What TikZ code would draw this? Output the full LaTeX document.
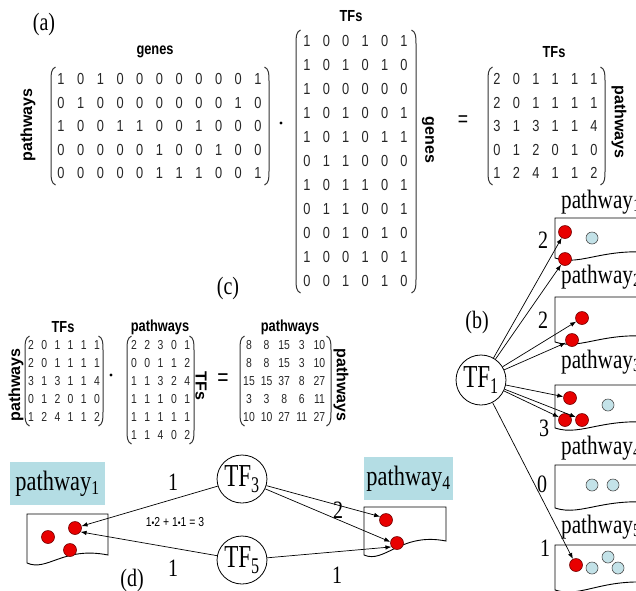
\documentclass[tikz,border=0pt]{standalone}
\usepackage{fontspec}
\setmainfont{Liberation Serif}
\setsansfont{Liberation Sans}
\usetikzlibrary{arrows.meta,shapes.geometric}
\definecolor{lblbg}{HTML}{B4DDE4}
\definecolor{lblue}{HTML}{C3E2E8}
\definecolor{dred}{HTML}{E80000}
\newcommand\sq[1]{\scalebox{0.8}[1]{#1}}
\newcommand\myLP[3]{\draw[parline] ({#1+4.5},#2) .. controls (#1,{#2+2}) and (#1,{#2+7}) .. (#1,{#2+14}) -- (#1,{#3-14}) .. controls (#1,{#3-7}) and (#1,{#3-2}) .. ({#1+4.5},#3);}
\newcommand\myRP[3]{\draw[parline] ({#1-4.5},#2) .. controls (#1,{#2+2}) and (#1,{#2+7}) .. (#1,{#2+14}) -- (#1,{#3-14}) .. controls (#1,{#3-7}) and (#1,{#3-2}) .. ({#1-4.5},#3);}
\newcommand\myWbox[5]{\draw[boxline] (#1,#2) -- (#1,#4) .. controls ({#1+0.25*(#3-#1)},{#4+9}) and ({#1+0.45*(#3-#1)},{#5-9}) .. (#3,#5) -- (#3,#2) -- cycle;}
\begin{document}
\begin{tikzpicture}[x=1pt,y=-1pt,
  digA/.style={font=\sffamily\fontsize{16}{16}\selectfont, inner sep=0, text=black!85},
  digC/.style={font=\sffamily\fontsize{13}{13}\selectfont, inner sep=0, text=black!85},
  lab/.style={font=\sffamily\bfseries\fontsize{16}{16}\selectfont, inner sep=0},
  ser/.style={font=\fontsize{25}{25}\selectfont, inner sep=0},
  pwl/.style={font=\fontsize{26.5}{26.5}\selectfont, inner sep=0, anchor=base west},
  parline/.style={line width=1pt, black!80},
  boxline/.style={line width=0.9pt, black},
  tfnode/.style={draw, ellipse, line width=0.8pt, minimum width=40, minimum height=50, inner sep=0, font=\fontsize{32}{32}\selectfont},
  rdot/.style={circle, draw=red!45!black, line width=0.6pt, fill=dred, minimum size=13, inner sep=0},
  bdot/.style={circle, draw=black!70, line width=0.6pt, fill=lblue, minimum size=12, inner sep=0},
  arr/.style={-{Latex[length=6pt,width=4.5pt]}, line width=0.7pt},
  pbox/.style={fill=lblbg, inner sep=0, font=\fontsize{28}{28}\selectfont},
  mdot/.style={circle, fill=black, minimum size=3.2, inner sep=0}]
\useasboundingbox (0,0) rectangle (636,590);
\clip (0,0) rectangle (636,590);

% ---------------- (a) ----------------
\node[ser] (la) at (44,24) {\sq{(a)}};
\node[lab] (ga) at (155,52) {\sq{genes}};
\node[lab, rotate=90] (pa) at (28,125) {pathways};
\foreach \row [count=\i] in {{1,0,1,0,0,0,0,0,0,0,1},{0,1,0,0,0,0,0,0,0,1,0},{1,0,0,1,1,0,0,1,0,0,0},{0,0,0,0,0,1,0,0,1,0,0},{0,0,0,0,0,1,1,1,0,0,1}}
  {\foreach \v [count=\j] in \row {\node[digA] (ma-\i-\j) at ({61+19.7*(\j-1)},{79+23.5*(\i-1)}) {\sq{\v}};}}
\myLP{51}{67}{185}
\myRP{269}{67}{185}
\node[mdot] (dota) at (281,123) {};

\node[lab] (ta) at (351,16) {\sq{TFs}};
\node[lab, rotate=-90] (gb) at (428,140) {genes};
\foreach \row [count=\i] in {{1,0,0,1,0,1},{1,0,1,0,1,0},{1,0,0,0,0,0},{1,0,1,0,0,1},{1,0,1,0,1,1},{0,1,1,0,0,0},{1,0,1,1,0,1},{0,1,1,0,0,1},{0,0,1,0,1,0},{1,0,0,1,0,1},{0,0,1,0,1,0}}
  {\foreach \v [count=\j] in \row {\node[digA] (mb-\i-\j) at ({307+19.4*(\j-1)},{41+24*(\i-1)}) {\sq{\v}};}}
\myLP{296}{30}{293}
\myRP{416}{30}{293}
\node[font=\sffamily\fontsize{22}{22}\selectfont, inner sep=0] (eqa) at (463,121) {\sq{=}};

\node[lab] (tb) at (554,52) {\sq{TFs}};
\node[lab, rotate=-90] (pb) at (619,122) {pathways};
\foreach \row [count=\i] in {{2,0,1,1,1,1},{2,0,1,1,1,1},{3,1,3,1,1,4},{0,1,2,0,1,0},{1,2,4,1,1,2}}
  {\foreach \v [count=\j] in \row {\node[digA] (mc-\i-\j) at ({497+19.4*(\j-1)},{79+23.5*(\i-1)}) {\sq{\v}};}}
\myLP{488}{67}{185}
\myRP{605}{67}{185}

% ---------------- (c) ----------------
\node[ser] (lc) at (228,288) {\sq{(c)}};
\node[lab] (tc) at (63,327) {\sq{TFs}};
\node[lab, rotate=90] (pc) at (16,385) {pathways};
\foreach \row [count=\i] in {{2,0,1,1,1,1},{2,0,1,1,1,1},{3,1,3,1,1,4},{0,1,2,0,1,0},{1,2,4,1,1,2}}
  {\foreach \v [count=\j] in \row {\node[digC] (mcA-\i-\j) at ({31+13.2*(\j-1)},{345+18*(\i-1)}) {\sq{\v}};}}
\myLP{25}{336}{426}
\myRP{103}{336}{426}
\node[mdot] (dotc) at (111,375) {};

\node[lab] (pd) at (160,327) {\sq{pathways}};
\node[lab, rotate=-90] (td) at (201,386) {TFs};
\foreach \row [count=\i] in {{2,2,3,0,1},{0,0,1,1,2},{1,1,3,2,4},{1,1,1,0,1},{1,1,1,1,1},{1,1,4,0,2}}
  {\foreach \v [count=\j] in \row {\node[digC] (mcB-\i-\j) at ({134+13.3*(\j-1)},{345+18*(\i-1)}) {\sq{\v}};}}
\myLP{127}{336}{444}
\myRP{194}{336}{444}
\node[font=\sffamily\fontsize{24}{24}\selectfont, inner sep=0] (eqc) at (223,380) {\sq{=}};

\node[lab] (pe) at (290,327) {\sq{pathways}};
\node[lab, rotate=-90] (pf) at (341,385) {pathways};
\foreach \row [count=\i] in {{8,8,15,3,10},{8,8,15,3,10},{15,15,37,8,27},{3,3,8,6,11},{10,10,27,11,27}}
  {\foreach \v [count=\j] in \row {\node[digC] (mcC-\i-\j) at ({249+17.6*(\j-1)},{345+18*(\i-1)}) {\sq{\v}};}}
\myLP{240}{336}{426}
\myRP{331}{336}{426}

% ---------------- (b) ----------------
\node[pwl] (pw1) at (561,208) {\sq{pathway\textsubscript{1}}};
\node[pwl] (pw2) at (561,283) {\sq{pathway\textsubscript{2}}};
\node[pwl] (pw3) at (561,368) {\sq{pathway\textsubscript{3}}};
\node[pwl] (pw4) at (561,454) {\sq{pathway\textsubscript{4}}};
\node[pwl] (pw5) at (561,533) {\sq{pathway\textsubscript{5}}};
\myWbox{555}{218}{665}{258}{254}
\myWbox{555}{297}{665}{342}{338}
\myWbox{555}{385}{665}{428}{424}
\myWbox{555}{465}{665}{508}{504}
\myWbox{555}{545}{665}{590}{584}

\node[rdot] (b1r1) at (565,232) {};
\node[bdot] (b1b1) at (592,238) {};
\node[rdot] (b1r2) at (565,259) {};
\node[rdot] (b2r1) at (582,318) {};
\node[rdot] (b2r2) at (572,340) {};
\node[rdot] (b3r1) at (570,398) {};
\node[rdot] (b3r2) at (565,420) {};
\node[rdot] (b3r3) at (582,420) {};
\node[bdot] (b3b1) at (608,405) {};
\node[bdot] (b4b1) at (592,485) {};
\node[bdot] (b4b2) at (613,485) {};
\node[rdot] (b5r1) at (576,565) {};
\node[bdot] (b5b1) at (592,568) {};
\node[bdot] (b5b2) at (608,557) {};
\node[bdot] (b5b3) at (618,568) {};

\node[ser] (nb1) at (543,240) {\sq{2}};
\node[ser] (nb2) at (543,320) {\sq{2}};
\node[ser] (nb3) at (544,428) {\sq{3}};
\node[ser] (nb4) at (542,484) {\sq{0}};
\node[ser] (nb5) at (545,548) {\sq{1}};
\node[ser] (lb) at (477,322) {\sq{(b)}};

\node[tfnode, minimum width=38] (tf1) at (481,380) {\scalebox{0.72}[1]{TF\textsubscript{1}}};
\draw[arr] (tf1) -- (b1r1);
\draw[arr] (tf1) -- (b1r2);
\draw[arr] (tf1) -- (b2r1);
\draw[arr] (tf1) -- (b2r2);
\draw[arr] (tf1) -- (b3r1);
\draw[arr] (tf1) -- (b3r3.155);
\draw[arr] (tf1) -- (b3r2);
\draw[arr] (tf1) -- (b5r1);

% ---------------- (d) ----------------
\node[pbox, minimum width=95, minimum height=43] (pl1) at (57.5,483.5) {\sq{pathway\textsubscript{1}}};
\node[pbox, minimum width=89, minimum height=43] (pl4) at (408.5,478.5) {\sq{pathway\textsubscript{4}}};
\myWbox{27}{514}{108}{563}{555}
\myWbox{364}{507}{446}{555}{541}
\node[rdot] (d1r1) at (48,537) {};
\node[rdot] (d1r2) at (75,528) {};
\node[rdot] (d1r3) at (70,550) {};
\node[rdot] (d4r1) at (386,520) {};
\node[rdot] (d4r2) at (397,543) {};

\node[tfnode, minimum width=41, minimum height=48] (tf3) at (242,479) {\scalebox{0.72}[1]{TF\textsubscript{3}}};
\node[tfnode, minimum width=41, minimum height=48] (tf5) at (242,560) {\scalebox{0.72}[1]{TF\textsubscript{5}}};
\draw[arr] (tf3) -- (d1r2);
\draw[arr] (tf5) -- (d1r2.-35);
\draw[arr] (tf3) -- (d4r1.150);
\draw[arr] (tf3) -- (d4r2.170);
\draw[arr] (tf5) -- (d4r2.215);

\node[ser] (nd1) at (173,482) {\sq{1}};
\node[ser] (nd2) at (173,568) {\sq{1}};
\node[ser] (nd3) at (338,510) {\sq{2}};
\node[ser] (nd4) at (337,575) {\sq{1}};
\node[ser] (ld) at (132,580) {\sq{(d)}};
\node[font=\sffamily\fontsize{13}{13}\selectfont, inner sep=0] (eqd) at (175,522) {\sq{1{\fontsize{10}{10}\selectfont\textbullet}2 + 1{\fontsize{10}{10}\selectfont\textbullet}1 = 3}};
\end{tikzpicture}
\end{document}
